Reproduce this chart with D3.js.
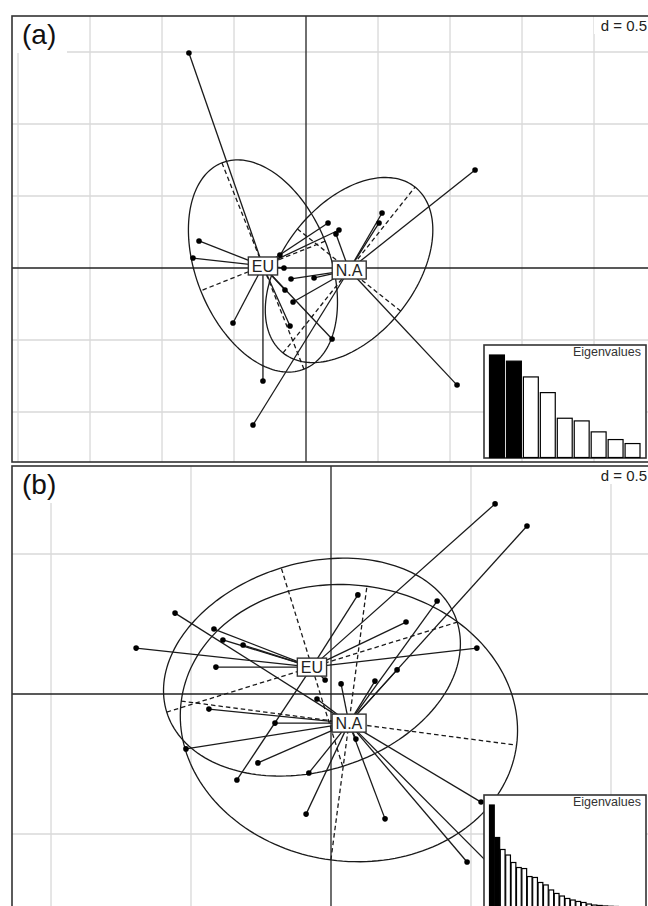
<!DOCTYPE html>
<html>
<head>
<meta charset="utf-8">
<script src="https://cdn.jsdelivr.net/npm/d3@7"></script>
<style>
  body { margin: 0; background: #fff; }
  svg { display: block; }
</style>
</head>
<body>
<svg id="chart" width="648" height="906"></svg>
<script>
// ---- Panel (a): factorial map, two groups ----
const groupNames = ["EU", "N.A"];

const euPointsA = [
  [-0.813, 1.493], [-0.743, 0.188], [-0.785, 0.069], [-0.507, -0.382],
  [-0.299, -0.785], [-0.111, -0.403], [0.181, -0.493], [0.153, 0.313],
  [0.229, 0.264], [-0.181, 0.090], [-0.153, 0.000], [-0.146, -0.153]
];
const naPointsA = [
  [1.174, 0.681], [0.528, 0.382], [0.507, 0.313], [0.208, 0.236],
  [1.049, -0.813], [-0.368, -1.090], [-0.090, -0.236], [-0.104, -0.076],
  [0.056, -0.069]
];
const centroidsA = [[-0.299, 0.014], [0.299, -0.014]];
// semi-major, semi-minor, angle of major axis (degrees)
const ellipsesA = [[0.771, 0.465, 111.7], [0.736, 0.458, 51.5]];
const eigenA = [1.00, 0.94, 0.786, 0.633, 0.383, 0.357, 0.25, 0.175, 0.136];

// ---- Panel (b) ----
const euPointsB = [
  [-0.696, 0.164], [-0.418, 0.232], [-0.386, 0.193], [-0.314, 0.175],
  [-0.411, 0.096], [-0.336, -0.307], [0.096, 0.354], [0.268, 0.257],
  [0.521, 0.164], [0.586, 0.679], [-0.021, 0.050]
];
const naPointsB = [
  [-0.557, 0.289], [-0.436, -0.054], [-0.200, -0.104], [-0.518, -0.196],
  [-0.261, -0.246], [-0.079, -0.282], [-0.089, -0.429], [0.379, 0.332],
  [0.700, 0.600], [0.236, 0.086], [0.157, 0.046], [0.036, 0.036],
  [0.089, -0.161], [0.536, -0.386], [0.193, -0.446], [0.486, -0.600],
  [0.621, -0.664], [-0.050, -0.018]
];
const centroidsB = [[-0.068, 0.096], [0.064, -0.104]];
const ellipsesB = [[0.543, 0.371, 17.2], [0.604, 0.493, -7.5]];
const eigenB = [
  1.00, 0.683, 0.566, 0.512, 0.439, 0.390, 0.380, 0.302, 0.293, 0.244,
  0.220, 0.171, 0.137, 0.112, 0.088, 0.073, 0.059, 0.049, 0.034, 0.024,
  0.020, 0.015, 0.012, 0.010, 0.008, 0.006, 0.005, 0.004
];

const gridStep = 0.5;
const nAxesKept = 2;

const svg = d3.select("#chart");
const font = "'Liberation Sans', Arial, Helvetica, sans-serif";
const ink = "#1a1a1a";

svg.append("rect").attr("width", 648).attr("height", 906).attr("fill", "#fff");

const panels = [
  { id: "pa", tag: "(a)", left: 12, right: 651, top: 16, bottom: 462,
    xlim: [-2.0417, 2.3958], ylim: [-1.3472, 1.75],
    groups: [euPointsA, naPointsA], centroids: centroidsA,
    ellipses: ellipsesA, eigen: eigenA },
  { id: "pb", tag: "(b)", left: 12, right: 651, top: 466, bottom: 912,
    xlim: [-1.1393, 1.1429], ylim: [-0.7786, 0.8143],
    groups: [euPointsB, naPointsB], centroids: centroidsB,
    ellipses: ellipsesB, eigen: eigenB }
];

function ellipseOutline(c, e) {
  const th = e[2] * Math.PI / 180;
  const u = [Math.cos(th), Math.sin(th)], v = [-Math.sin(th), Math.cos(th)];
  return d3.range(0, 360, 2).map(deg => {
    const t = deg * Math.PI / 180;
    const ca = e[0] * Math.cos(t), sb = e[1] * Math.sin(t);
    return [c[0] + ca * u[0] + sb * v[0], c[1] + ca * u[1] + sb * v[1]];
  });
}
function ellipseAxes(c, e) {
  const th = e[2] * Math.PI / 180;
  const u = [Math.cos(th), Math.sin(th)], v = [-Math.sin(th), Math.cos(th)];
  return [
    [[c[0] - e[0] * u[0], c[1] - e[0] * u[1]], [c[0] + e[0] * u[0], c[1] + e[0] * u[1]]],
    [[c[0] - e[1] * v[0], c[1] - e[1] * v[1]], [c[0] + e[1] * v[0], c[1] + e[1] * v[1]]]
  ];
}

panels.forEach(p => {
  const x = d3.scaleLinear().domain(p.xlim).range([p.left, p.right]);
  const y = d3.scaleLinear().domain(p.ylim).range([p.bottom, p.top]);
  const w = p.right - p.left, h = p.bottom - p.top;

  svg.append("clipPath").attr("id", "clip-" + p.id)
    .append("rect").attr("x", p.left).attr("y", p.top).attr("width", w).attr("height", h);

  const g = svg.append("g").attr("clip-path", `url(#clip-${p.id})`);

  // grid
  const gx = d3.range(Math.ceil(p.xlim[0] / gridStep), Math.floor(p.xlim[1] / gridStep) + 1)
    .map(k => k * gridStep).filter(v => v !== 0);
  const gy = d3.range(Math.ceil(p.ylim[0] / gridStep), Math.floor(p.ylim[1] / gridStep) + 1)
    .map(k => k * gridStep).filter(v => v !== 0);
  g.selectAll(".gx").data(gx).join("line")
    .attr("x1", d => x(d)).attr("x2", d => x(d)).attr("y1", p.top).attr("y2", p.bottom)
    .attr("stroke", "#d8d8d8").attr("stroke-width", 1.3);
  g.selectAll(".gy").data(gy).join("line")
    .attr("y1", d => y(d)).attr("y2", d => y(d)).attr("x1", p.left).attr("x2", p.right)
    .attr("stroke", "#d8d8d8").attr("stroke-width", 1.3);

  // origin axes
  g.append("line").attr("x1", x(0)).attr("x2", x(0)).attr("y1", p.top).attr("y2", p.bottom)
    .attr("stroke", "#222").attr("stroke-width", 1.3);
  g.append("line").attr("y1", y(0)).attr("y2", y(0)).attr("x1", p.left).attr("x2", p.right)
    .attr("stroke", "#222").attr("stroke-width", 1.3);

  // grid size label
  g.append("rect").attr("x", p.right - 57).attr("y", p.top).attr("width", 57).attr("height", 18)
    .attr("fill", "#fff");
  g.append("text").attr("x", 647).attr("y", p.top + 15).attr("text-anchor", "end")
    .attr("font-family", font).attr("font-size", 15).attr("fill", "#222")
    .text("d = " + gridStep);

  const line = d3.line().x(d => x(d[0])).y(d => y(d[1]));

  p.groups.forEach((pts, gi) => {
    const c = p.centroids[gi];
    const e = p.ellipses[gi];
    // stars
    g.append("g").selectAll("line").data(pts).join("line")
      .attr("x1", x(c[0])).attr("y1", y(c[1]))
      .attr("x2", d => x(d[0])).attr("y2", d => y(d[1]))
      .attr("stroke", ink).attr("stroke-width", 1.3);
    // ellipse
    g.append("path").datum(ellipseOutline(c, e))
      .attr("d", d3.line().x(d => x(d[0])).y(d => y(d[1])).curve(d3.curveLinearClosed))
      .attr("fill", "none").attr("stroke", ink).attr("stroke-width", 1.3);
    // ellipse axes
    g.append("g").selectAll("path").data(ellipseAxes(c, e)).join("path")
      .attr("d", line).attr("fill", "none").attr("stroke", ink)
      .attr("stroke-width", 1.3).attr("stroke-dasharray", "4.5,3");
  });

  // points
  p.groups.forEach(pts => {
    g.append("g").selectAll("circle").data(pts).join("circle")
      .attr("cx", d => x(d[0])).attr("cy", d => y(d[1])).attr("r", 2.8).attr("fill", "#000");
  });

  // group labels
  p.centroids.forEach((c, gi) => {
    const lg = g.append("g");
    const t = lg.append("text").attr("x", x(c[0])).attr("y", y(c[1]))
      .attr("dy", "0.36em").attr("text-anchor", "middle")
      .attr("font-family", font).attr("font-size", 16).attr("fill", "#222")
      .text(groupNames[gi]);
    const bb = t.node().getBBox();
    lg.insert("rect", "text")
      .attr("x", bb.x - 3.5).attr("y", y(c[1]) - 9)
      .attr("width", bb.width + 7).attr("height", 18)
      .attr("fill", "#fff").attr("stroke", "#333").attr("stroke-width", 1.4);
  });

  // eigenvalue inset
  const bx = p.right - 167, by = p.bottom - 117, bw = 162, bh = 113;
  g.append("rect").attr("x", bx).attr("y", by).attr("width", bw).attr("height", bh)
    .attr("fill", "#fff").attr("stroke", "#333").attr("stroke-width", 1.6);
  const ex = d3.scaleBand().domain(d3.range(p.eigen.length))
    .range([bx + 5.5, bx + 156]).paddingInner(0.12);
  const ey = d3.scaleLinear().domain([0, d3.max(p.eigen)]).range([by + bh - 0.5, by + 10]);
  g.append("g").selectAll("rect").data(p.eigen).join("rect")
    .attr("x", (d, i) => ex(i)).attr("width", ex.bandwidth())
    .attr("y", d => ey(d)).attr("height", d => ey(0) - ey(d))
    .attr("fill", (d, i) => i < nAxesKept ? "#000" : "#fff")
    .attr("stroke", "#000").attr("stroke-width", 1.2);
  g.append("text").attr("x", bx + 157).attr("y", by + 10.5).attr("text-anchor", "end")
    .attr("font-family", font).attr("font-size", 12.5).attr("fill", "#333")
    .text("Eigenvalues");

  // panel tag
  g.append("rect").attr("x", p.left).attr("y", p.top).attr("width", 55).attr("height", 37)
    .attr("fill", "#fff");
  g.append("text").attr("x", p.left + 10).attr("y", p.top + 28)
    .attr("font-family", font).attr("font-size", 28).attr("fill", "#111")
    .text(p.tag);

  // frame
  svg.append("rect").attr("x", p.left).attr("y", p.top).attr("width", w).attr("height", h)
    .attr("fill", "none").attr("stroke", "#333").attr("stroke-width", 1.6);
});
</script>
</body>
</html>
